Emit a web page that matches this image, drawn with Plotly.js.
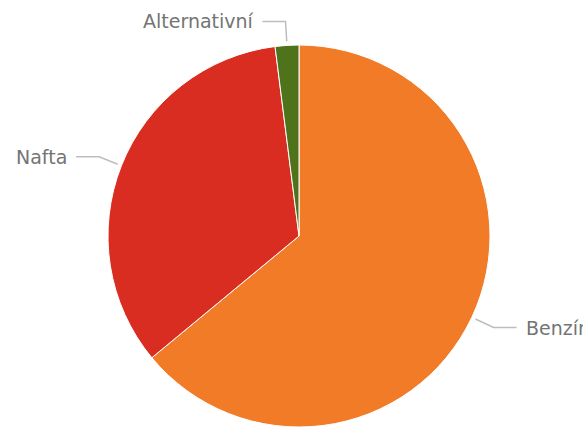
<!DOCTYPE html>
<html>
<head>
<meta charset="utf-8">
<script src="https://cdn.plot.ly/plotly-3.0.1.min.js"></script>
<style>
  html, body { margin: 0; padding: 0; background: #fff; }
  #chart { width: 583px; height: 428px; }
</style>
</head>
<body>
<div id="chart"></div>
<script>
// fuel types and their share
let fuelNames = ["Benzín", "Nafta", "Alternativní"];
let fuelShares = [64, 34, 2];
let fuelColors = ["#F17B27", "#D92D21", "#4F731A"];

const W = 583, H = 428;
// pie domain in pixels
const cx = 299, cy = 236, r = 191;

// pixel -> paper helpers
let px = x => x / W;
let py = y => 1 - y / H;

// leader lines + labels, placed from the slice mid angles
let total = fuelShares.reduce((a, b) => a + b, 0);
let shapes = [];
let annotations = [];
let acc = 0;
fuelShares.forEach((v, i) => {
    let mid = (acc + v / 2) / total * 2 * Math.PI; // clockwise from top
    acc += v;
    let sx = Math.sin(mid), sy = -Math.cos(mid);
    let x0 = cx + (r + 4) * sx, y0 = cy + (r + 4) * sy;
    let x1 = cx + (r + 24) * sx, y1 = cy + (r + 24) * sy;
    let dir = sx < 0 ? -1 : 1;
    let x2 = x1 + dir * 23;
    shapes.push({
        type: "path", xref: "paper", yref: "paper",
        path: `M ${px(x0)} ${py(y0)} L ${px(x1)} ${py(y1)} L ${px(x2)} ${py(y1)}`,
        line: { color: "#BDBDBD", width: 1.5 }
    });
    annotations.push({
        xref: "paper", yref: "paper",
        x: px(x2 + dir * 7), y: py(y1),
        xanchor: dir < 0 ? "right" : "left", yanchor: "middle",
        text: fuelNames[i], showarrow: false,
        font: { family: "DejaVu Sans", size: 19, color: "#747474" }
    });
});

let trace = {
    type: "pie",
    labels: fuelNames,
    values: fuelShares,
    sort: false,
    direction: "clockwise",
    rotation: 0,
    textinfo: "none",
    hoverinfo: "label+percent",
    marker: { colors: fuelColors, line: { color: "#FFFFFF", width: 1 } },
    domain: { x: [px(cx - r), px(cx + r)], y: [py(cy + r), py(cy - r)] }
};

let layout = {
    width: W, height: H,
    margin: { l: 0, r: 0, t: 0, b: 0 },
    showlegend: false,
    paper_bgcolor: "#FFFFFF",
    shapes: shapes,
    annotations: annotations
};

Plotly.newPlot("chart", [trace], layout, { displayModeBar: false, staticPlot: true });
</script>
</body>
</html>
